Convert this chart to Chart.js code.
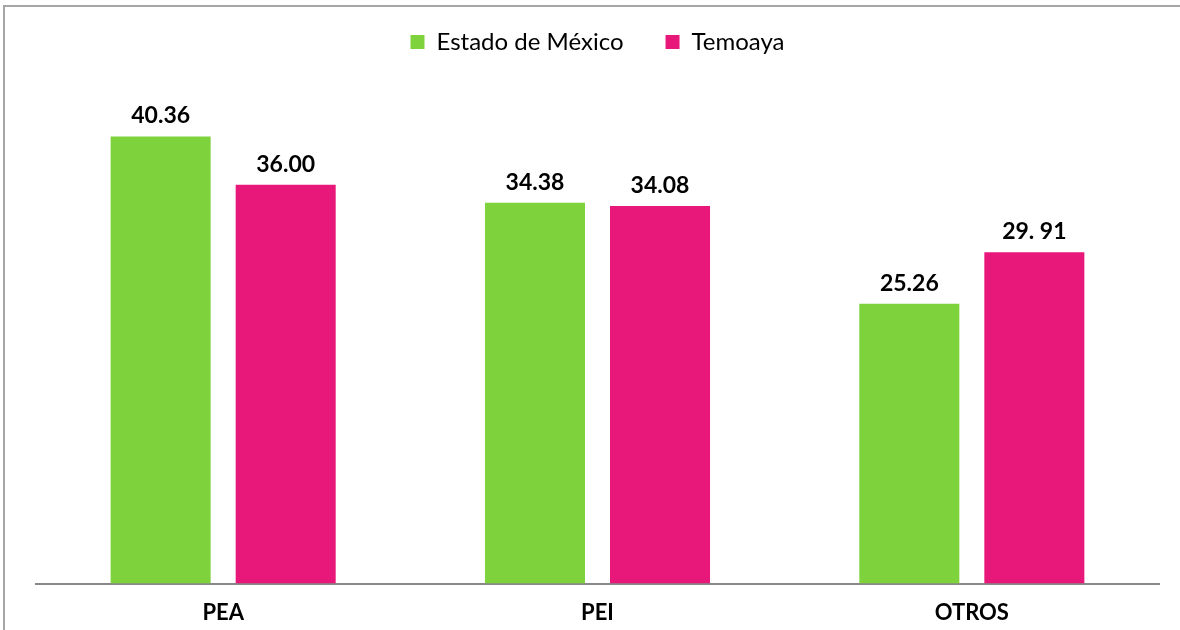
<!DOCTYPE html>
<html>
<head>
<meta charset="utf-8">
<script src="https://cdn.jsdelivr.net/npm/chart.js@4.4.0/dist/chart.umd.min.js"></script>
<style>
  html, body { margin: 0; padding: 0; background: #fff; }
  #wrap { position: relative; width: 1180px; height: 630px; overflow: hidden; }
  #marco { position: absolute; left: 3px; top: 5px; right: -2px; bottom: -2px;
           border-left: 2px solid #a6a6a6; border-top: 2px solid #a6a6a6; }
  canvas { position: absolute; left: 0; top: 0; }
</style>
</head>
<body>
<div id="wrap">
  <div id="marco"></div>
  <canvas id="myChart" width="1180" height="630"></canvas>
</div>
<script>
// Datos de la gráfica
const categorias = ['PEA', 'PEI', 'OTROS'];
const estadoMexico = [40.36, 34.38, 25.26];
const temoaya = [36.00, 34.08, 29.91];
// Etiquetas tal como aparecen en la imagen
const etiquetasEstado = ['40.36', '34.38', '25.26'];
const etiquetasTemoaya = ['36.00', '34.08', '29. 91'];

const verde = '#7ed23c';
const rosa = '#e8177a';

// Plugin para escribir el valor encima de cada barra
const etiquetasBarras = {
  id: 'etiquetasBarras',
  afterDatasetsDraw(chart) {
    const ctx = chart.ctx;
    ctx.save();
    ctx.font = 'bold 23px Lato';
    ctx.fillStyle = '#000';
    ctx.textAlign = 'center';
    ctx.textBaseline = 'bottom';
    chart.data.datasets.forEach((ds, i) => {
      const meta = chart.getDatasetMeta(i);
      meta.data.forEach((bar, j) => {
        ctx.fillText(ds.etiquetas[j], bar.x, bar.y - 9);
      });
    });
    ctx.restore();
  }
};

const ctx = document.getElementById('myChart').getContext('2d');
const chart = new Chart(ctx, {
  type: 'bar',
  data: {
    labels: categorias,
    datasets: [{
      label: 'Estado de México',
      data: estadoMexico,
      etiquetas: etiquetasEstado,
      backgroundColor: verde,
      categoryPercentage: 0.668,
      barPercentage: 0.8
    }, {
      label: 'Temoaya',
      data: temoaya,
      etiquetas: etiquetasTemoaya,
      backgroundColor: rosa,
      categoryPercentage: 0.668,
      barPercentage: 0.8
    }]
  },
  options: {
    responsive: false,
    animation: false,
    layout: { padding: { top: -12, left: 36, right: 21, bottom: -12 } },
    plugins: {
      legend: {
        position: 'top',
        labels: {
          boxWidth: 14,
          boxHeight: 14,
          padding: 42,
          color: '#000',
          font: { family: 'Lato', size: 24 }
        }
      },
      tooltip: { enabled: false }
    },
    scales: {
      x: {
        grid: { display: false, drawTicks: false },
        border: { display: true, color: '#888', width: 2 },
        ticks: { color: '#000', padding: 16, font: { family: 'Lato', size: 22, weight: 'bold' } }
      },
      y: {
        display: false,
        min: 0,
        max: 46.9
      }
    }
  },
  plugins: [etiquetasBarras]
});
</script>
</body>
</html>
